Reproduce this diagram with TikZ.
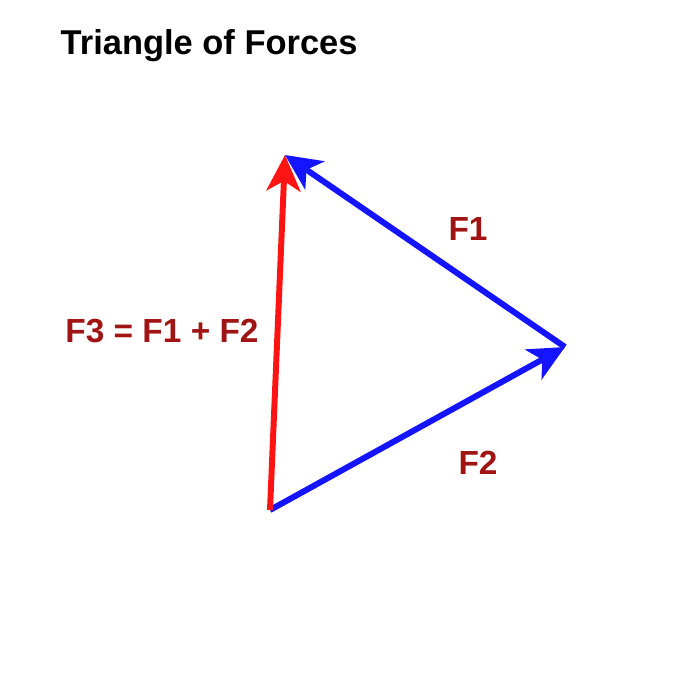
\documentclass[tikz,border=0pt]{standalone}
\usepackage{fontspec}
\setmainfont{Liberation Sans}
\usetikzlibrary{arrows.meta}
\definecolor{lab}{RGB}{160,20,20}
\definecolor{bl}{RGB}{20,20,255}
\definecolor{rd}{RGB}{255,20,20}
\tikzset{
  force/.style={line width=1.7pt,-{Stealth[length=0.36cm,width=0.34cm,inset=0.1cm]}},
  lbl/.style={text=lab,font=\bfseries\fontsize{9.5}{11}\selectfont,inner sep=0pt}
}
\begin{document}
\begin{tikzpicture}[x=0.01cm,y=-0.01cm]
\useasboundingbox (0,0) rectangle (700,700);
\coordinate (O) at (270,510);
\coordinate (P) at (565,347);
\coordinate (T) at (285,155);
\draw[force,bl] (O) -- (P);
\draw[force,bl] (P) -- (T);
\draw[force,rd] (O) -- (T);
\node[anchor=west,inner sep=0pt,font=\bfseries\fontsize{9.8}{12}\selectfont] (title) at (60,46) {Triangle of Forces};
\node[lbl] (f1) at (468,229) {F1};
\node[lbl] (f2) at (478,463) {F2};
\node[lbl] (f3) at (162,331) {F3 = F1 + F2};
\end{tikzpicture}
\end{document}
